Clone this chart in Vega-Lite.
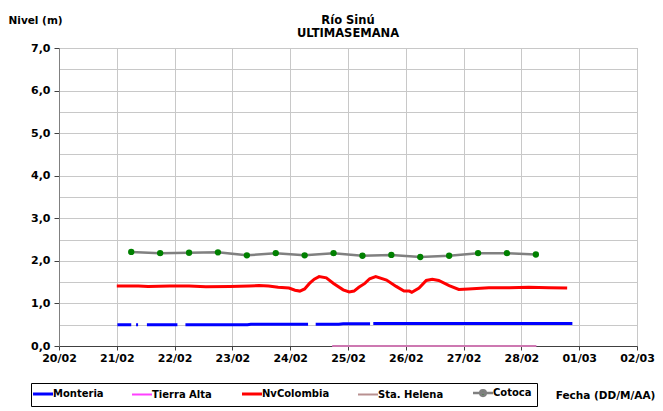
{
  "$schema": "https://vega.github.io/schema/vega-lite/v6.json",
  "autosize": {"type": "none"},
  "width": 578,
  "height": 298,
  "padding": {"left": 59, "top": 48, "right": 26, "bottom": 65},
  "background": "white",
  "title": {
    "text": ["Río Sinú", "ULTIMASEMANA"],
    "anchor": "middle",
    "frame": "group",
    "font": "DejaVu Sans",
    "fontSize": 11.5,
    "fontWeight": "bold",
    "lineHeight": 13,
    "color": "black",
    "offset": -24
  },
  "config": {
    "font": "DejaVu Sans",
    "view": {"stroke": "#A0A0A0", "strokeWidth": 1}
  },
  "datasets": {
    "levels": [
      {"series": "Monteria", "t": "2021-02-21T00:15", "v": 0.50},
      {"series": "Monteria", "t": "2021-02-21T06:00", "v": 0.50},
      {"series": "Monteria", "t": "2021-02-21T07:00", "v": null},
      {"series": "Monteria", "t": "2021-02-21T08:00", "v": 0.50},
      {"series": "Monteria", "t": "2021-02-21T08:50", "v": 0.50},
      {"series": "Monteria", "t": "2021-02-21T10:00", "v": null},
      {"series": "Monteria", "t": "2021-02-21T12:30", "v": 0.50},
      {"series": "Monteria", "t": "2021-02-22T01:10", "v": 0.50},
      {"series": "Monteria", "t": "2021-02-22T03:00", "v": null},
      {"series": "Monteria", "t": "2021-02-22T04:30", "v": 0.50},
      {"series": "Monteria", "t": "2021-02-23T06:15", "v": 0.50},
      {"series": "Monteria", "t": "2021-02-23T07:40", "v": 0.51},
      {"series": "Monteria", "t": "2021-02-24T07:25", "v": 0.51},
      {"series": "Monteria", "t": "2021-02-24T09:00", "v": null},
      {"series": "Monteria", "t": "2021-02-24T10:35", "v": 0.51},
      {"series": "Monteria", "t": "2021-02-24T20:10", "v": 0.51},
      {"series": "Monteria", "t": "2021-02-24T22:00", "v": 0.52},
      {"series": "Monteria", "t": "2021-02-25T09:10", "v": 0.52},
      {"series": "Monteria", "t": "2021-02-25T09:50", "v": null},
      {"series": "Monteria", "t": "2021-02-25T10:30", "v": 0.53},
      {"series": "Monteria", "t": "2021-02-27T09:50", "v": 0.53},
      {"series": "Monteria", "t": "2021-02-28T21:10", "v": 0.53},
      {"series": "Tierra Alta", "t": "2021-02-24T17:30", "v": 0},
      {"series": "Tierra Alta", "t": "2021-02-28T06:10", "v": 0},
      {"series": "NvColombia", "t": "2021-02-21T00:00", "v": 1.41},
      {"series": "NvColombia", "t": "2021-02-21T09:00", "v": 1.41},
      {"series": "NvColombia", "t": "2021-02-21T13:00", "v": 1.40},
      {"series": "NvColombia", "t": "2021-02-21T22:00", "v": 1.41},
      {"series": "NvColombia", "t": "2021-02-22T06:00", "v": 1.41},
      {"series": "NvColombia", "t": "2021-02-22T13:00", "v": 1.39},
      {"series": "NvColombia", "t": "2021-02-22T23:00", "v": 1.40},
      {"series": "NvColombia", "t": "2021-02-23T07:00", "v": 1.41},
      {"series": "NvColombia", "t": "2021-02-23T11:00", "v": 1.42},
      {"series": "NvColombia", "t": "2021-02-23T15:00", "v": 1.41},
      {"series": "NvColombia", "t": "2021-02-23T19:00", "v": 1.38},
      {"series": "NvColombia", "t": "2021-02-23T23:30", "v": 1.36},
      {"series": "NvColombia", "t": "2021-02-24T02:00", "v": 1.31},
      {"series": "NvColombia", "t": "2021-02-24T04:00", "v": 1.29},
      {"series": "NvColombia", "t": "2021-02-24T06:00", "v": 1.34},
      {"series": "NvColombia", "t": "2021-02-24T08:00", "v": 1.47},
      {"series": "NvColombia", "t": "2021-02-24T10:00", "v": 1.57},
      {"series": "NvColombia", "t": "2021-02-24T12:00", "v": 1.63},
      {"series": "NvColombia", "t": "2021-02-24T15:00", "v": 1.60},
      {"series": "NvColombia", "t": "2021-02-24T18:00", "v": 1.47},
      {"series": "NvColombia", "t": "2021-02-24T22:00", "v": 1.32},
      {"series": "NvColombia", "t": "2021-02-25T00:30", "v": 1.27},
      {"series": "NvColombia", "t": "2021-02-25T02:30", "v": 1.29},
      {"series": "NvColombia", "t": "2021-02-25T04:30", "v": 1.38},
      {"series": "NvColombia", "t": "2021-02-25T07:00", "v": 1.47},
      {"series": "NvColombia", "t": "2021-02-25T09:00", "v": 1.58},
      {"series": "NvColombia", "t": "2021-02-25T11:30", "v": 1.63},
      {"series": "NvColombia", "t": "2021-02-25T16:00", "v": 1.55},
      {"series": "NvColombia", "t": "2021-02-25T20:00", "v": 1.40},
      {"series": "NvColombia", "t": "2021-02-25T23:15", "v": 1.29},
      {"series": "NvColombia", "t": "2021-02-26T01:30", "v": 1.29},
      {"series": "NvColombia", "t": "2021-02-26T02:30", "v": 1.26},
      {"series": "NvColombia", "t": "2021-02-26T05:30", "v": 1.36},
      {"series": "NvColombia", "t": "2021-02-26T08:30", "v": 1.54},
      {"series": "NvColombia", "t": "2021-02-26T11:00", "v": 1.57},
      {"series": "NvColombia", "t": "2021-02-26T13:40", "v": 1.54},
      {"series": "NvColombia", "t": "2021-02-26T18:00", "v": 1.42},
      {"series": "NvColombia", "t": "2021-02-26T22:00", "v": 1.33},
      {"series": "NvColombia", "t": "2021-02-27T02:00", "v": 1.34},
      {"series": "NvColombia", "t": "2021-02-27T10:30", "v": 1.37},
      {"series": "NvColombia", "t": "2021-02-27T19:00", "v": 1.37},
      {"series": "NvColombia", "t": "2021-02-28T03:00", "v": 1.38},
      {"series": "NvColombia", "t": "2021-02-28T11:30", "v": 1.37},
      {"series": "NvColombia", "t": "2021-02-28T19:00", "v": 1.36},
      {"series": "Sta. Helena", "t": "2021-02-24T17:30", "v": 0},
      {"series": "Sta. Helena", "t": "2021-02-28T06:10", "v": 0},
      {"series": "Cotoca", "t": "2021-02-21T06:00", "v": 2.21},
      {"series": "Cotoca", "t": "2021-02-21T18:00", "v": 2.18},
      {"series": "Cotoca", "t": "2021-02-22T06:00", "v": 2.19},
      {"series": "Cotoca", "t": "2021-02-22T18:00", "v": 2.20},
      {"series": "Cotoca", "t": "2021-02-23T06:00", "v": 2.13},
      {"series": "Cotoca", "t": "2021-02-23T18:00", "v": 2.18},
      {"series": "Cotoca", "t": "2021-02-24T06:00", "v": 2.13},
      {"series": "Cotoca", "t": "2021-02-24T18:00", "v": 2.18},
      {"series": "Cotoca", "t": "2021-02-25T06:00", "v": 2.12},
      {"series": "Cotoca", "t": "2021-02-25T18:00", "v": 2.14},
      {"series": "Cotoca", "t": "2021-02-26T06:00", "v": 2.09},
      {"series": "Cotoca", "t": "2021-02-26T18:00", "v": 2.12},
      {"series": "Cotoca", "t": "2021-02-27T06:00", "v": 2.18},
      {"series": "Cotoca", "t": "2021-02-27T18:00", "v": 2.18},
      {"series": "Cotoca", "t": "2021-02-28T06:00", "v": 2.15}
    ]
  },
  "data": {"name": "levels"},
  "encoding": {
    "x": {
      "field": "t",
      "type": "temporal",
      "scale": {
        "domain": [
          {"year": 2021, "month": 2, "date": 20},
          {"year": 2021, "month": 3, "date": 2}
        ]
      },
      "axis": {
        "values": [
          {"year": 2021, "month": 2, "date": 20},
          {"year": 2021, "month": 2, "date": 21},
          {"year": 2021, "month": 2, "date": 22},
          {"year": 2021, "month": 2, "date": 23},
          {"year": 2021, "month": 2, "date": 24},
          {"year": 2021, "month": 2, "date": 25},
          {"year": 2021, "month": 2, "date": 26},
          {"year": 2021, "month": 2, "date": 27},
          {"year": 2021, "month": 2, "date": 28},
          {"year": 2021, "month": 3, "date": 1},
          {"year": 2021, "month": 3, "date": 2}
        ],
        "format": "%d/%m",
        "formatType": "time",
        "labelFont": "DejaVu Sans",
        "labelFontSize": 11,
        "labelFontWeight": "bold",
        "labelColor": "black",
        "labelPadding": 2,
        "labelFlush": false,
        "labelOverlap": false,
        "tickSize": 4,
        "tickColor": "#404040",
        "domainColor": "#404040",
        "grid": true,
        "gridColor": "#C8C8C8",
        "title": "Fecha (DD/M/AA)",
        "titleFont": "DejaVu Sans",
        "titleFontSize": 10.5,
        "titleFontWeight": "bold",
        "titleColor": "black",
        "titleAnchor": "start",
        "titleAlign": "center",
        "titleBaseline": "middle",
        "titleX": 546,
        "titleY": 49
      }
    },
    "y": {
      "field": "v",
      "type": "quantitative",
      "scale": {"domain": [0, 7], "nice": false},
      "axis": {
        "values": [0, 0.5, 1, 1.5, 2, 2.5, 3, 3.5, 4, 4.5, 5, 5.5, 6, 6.5, 7],
        "labelExpr": "datum.value % 1 === 0 ? replace(format(datum.value, '.1f'), '.', ',') : ''",
        "labelFont": "DejaVu Sans",
        "labelFontSize": 11,
        "labelFontWeight": "bold",
        "labelColor": "black",
        "labelPadding": 4,
        "labelFlush": false,
        "labelOverlap": false,
        "tickSize": 5,
        "tickColor": "#404040",
        "tickOpacity": {"condition": {"test": "datum.value % 1 === 0", "value": 1}, "value": 0},
        "domainColor": "#808080",
        "grid": true,
        "gridColor": "#C8C8C8",
        "title": "Nivel (m)",
        "titleFont": "DejaVu Sans",
        "titleFontSize": 10.5,
        "titleFontWeight": "bold",
        "titleColor": "black",
        "titleAngle": 0,
        "titleAlign": "left",
        "titleBaseline": "middle",
        "titleX": -51,
        "titleY": -28
      }
    }
  },
  "layer": [
    {
      "mark": {"type": "line", "invalid": "break-paths-show-domains", "strokeWidth": 3},
      "transform": [{"filter": "datum.series === 'Monteria' || datum.series === 'NvColombia'"}],
      "encoding": {
        "color": {
          "field": "series",
          "type": "nominal",
          "scale": {
            "domain": ["Monteria", "Tierra Alta", "NvColombia", "Sta. Helena", "Cotoca"],
            "range": ["#0000FF", "#FF40FF", "#FF0000", "#B89090", "#808080"]
          },
          "legend": {
            "orient": "none",
            "direction": "horizontal",
            "legendX": -28,
            "legendY": 335,
            "title": null,
            "columns": 5,
            "gridAlign": "each",
            "columnPadding": 24,
            "symbolType": "stroke",
            "symbolSize": 400,
            "symbolStrokeWidth": 3,
            "symbolOffset": 2,
            "labelOffset": 5,
            "labelFont": "DejaVu Sans",
            "labelFontSize": 10,
            "labelFontWeight": "bold",
            "labelColor": "black",
            "strokeColor": "black",
            "fillColor": "white",
            "padding": 5,
            "encode": {
              "symbols": {
                "update": {
                  "fill": {"signal": "datum.value === 'Cotoca' ? '#008000' : 'transparent'"},
                  "shape": {"signal": "datum.value === 'Cotoca' ? 'M-1,0H1M-0.28,0A0.28,0.28,0,1,1,0.28,0A0.28,0.28,0,1,1,-0.28,0' : 'stroke'"},
                  "strokeWidth": {"signal": "datum.value === 'Cotoca' ? 2.5 : datum.value === 'Sta. Helena' || datum.value === 'Tierra Alta' ? 2 : 3"}
                }
              }
            }
          }
        }
      }
    },
    {
      "mark": {"type": "line", "strokeWidth": 2},
      "transform": [{"filter": "datum.series === 'Tierra Alta'"}],
      "encoding": {"color": {"field": "series", "type": "nominal"}}
    },
    {
      "mark": {"type": "line", "strokeWidth": 2, "opacity": 0.7},
      "transform": [{"filter": "datum.series === 'Sta. Helena'"}],
      "encoding": {"color": {"field": "series", "type": "nominal"}}
    },
    {
      "mark": {"type": "line", "strokeWidth": 2.5},
      "transform": [{"filter": "datum.series === 'Cotoca'"}],
      "encoding": {"color": {"field": "series", "type": "nominal"}}
    },
    {
      "mark": {"type": "point", "filled": true, "size": 40, "color": "#008000", "opacity": 1},
      "transform": [{"filter": "datum.series === 'Cotoca'"}],
      "encoding": {}
    }
  ]
}
